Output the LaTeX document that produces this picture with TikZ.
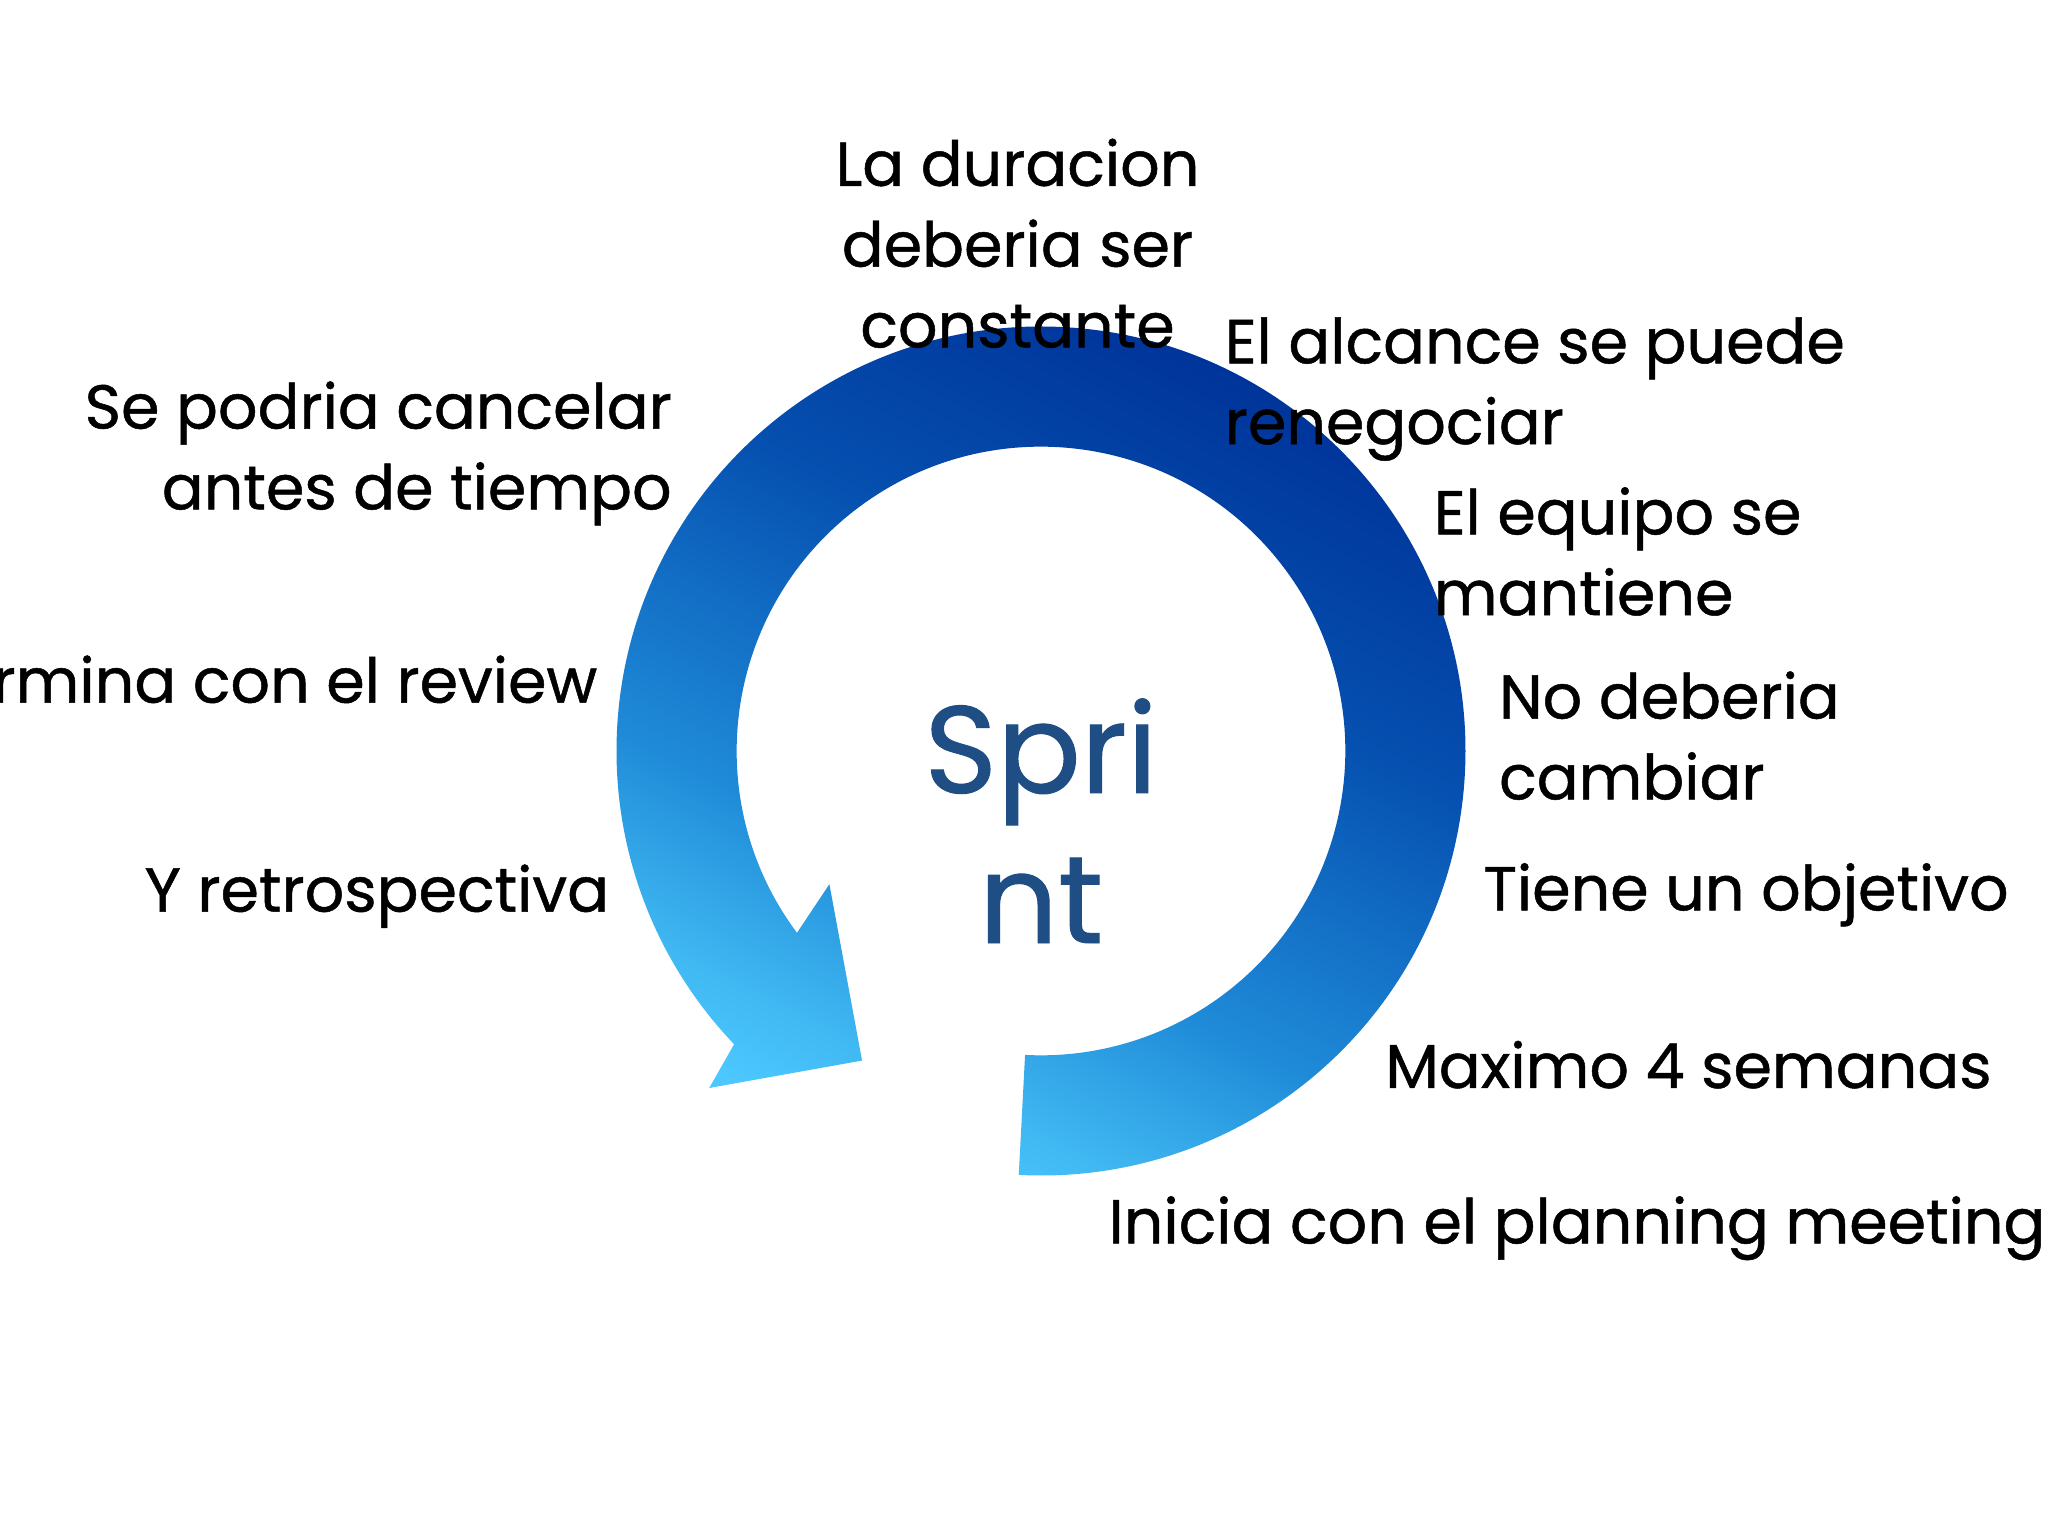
\documentclass[tikz,border=0pt]{standalone}
\usepackage{fontspec}
\setmainfont{Poppins}[FakeBold=0.8]
\usetikzlibrary{calc}
\definecolor{ringdark}{HTML}{003399}
\definecolor{ringdeep}{HTML}{0550B0}
\definecolor{ringmid}{HTML}{1F8BD8}
\definecolor{ringpale}{HTML}{40B8F2}
\definecolor{ringlight}{HTML}{4CC8FF}
\definecolor{sprintblue}{HTML}{1F4E85}
\pgfdeclareverticalshading{ringshade}{100bp}{%
  color(0bp)=(ringlight); color(25bp)=(ringlight); color(30bp)=(ringpale);
  color(40bp)=(ringmid); color(58.5bp)=(ringdeep); color(75bp)=(ringdark);
  color(100bp)=(ringdark)}
\tikzset{
  lbl/.style={inner sep=0pt, font=\fontsize{13.5}{17.6}\selectfont, text=black},
  bigword/.style={inner sep=0pt, font=\fontsize{27}{32.7}\selectfont, text=sprintblue, align=center},
  ring/.style={shading=ringshade, shading angle=-26.6}
}
\begin{document}
\begin{tikzpicture}
\useasboundingbox (0,0) rectangle (15.68,11.76);
\clip (0,0) rectangle (15.68,11.76);
\fill[white] (0,0) rectangle (15.68,11.76);
\coordinate (C) at (7.97,6.01);
\coordinate (outerbarb) at (5.43,3.43);
\coordinate (tip) at (6.60,3.64);
\coordinate (innerbarb) at (6.35,4.99);
\shade[ring]
  ($(C)+(-93:3.25)$) arc[start angle=-93, end angle=223.7, radius=3.25cm]
  -- (outerbarb) -- (tip) -- (innerbarb)
  -- ($(C)+(216.7:2.33)$) arc[start angle=216.7, end angle=-93, radius=2.33cm] -- cycle;

\node[bigword, anchor=base] (sprint) at (7.97,4.54) {Spri\\nt};

\node[lbl, anchor=base, align=center] (duracion) at (7.79,9.10) {La duracion\\deberia ser\\constante};
\node[lbl, anchor=base west, align=left] (alcance) at (9.37,8.36) {El alcance se puede\\renegociar};
\node[lbl, anchor=base east, align=right] (cancelar) at (5.15,7.86) {Se podria cancelar\\antes de tiempo};
\node[lbl, anchor=base west, align=left] (equipo) at (10.97,7.05) {El equipo se\\mantiene};
\node[lbl, anchor=base west, align=left] (cambiar) at (11.47,5.64) {No deberia\\cambiar};
\node[lbl, anchor=base east] (review) at (4.58,6.38) {Termina con el review};
\node[lbl, anchor=base east] (retro) at (4.67,4.78) {Y retrospectiva};
\node[lbl, anchor=base west] (objetivo) at (11.35,4.79) {Tiene un objetivo};
\node[lbl, anchor=base west] (semanas) at (10.60,3.43) {Maximo 4 semanas};
\node[lbl, anchor=base west] (planning) at (8.48,2.24) {Inicia con el planning meeting};
\end{tikzpicture}
\end{document}
